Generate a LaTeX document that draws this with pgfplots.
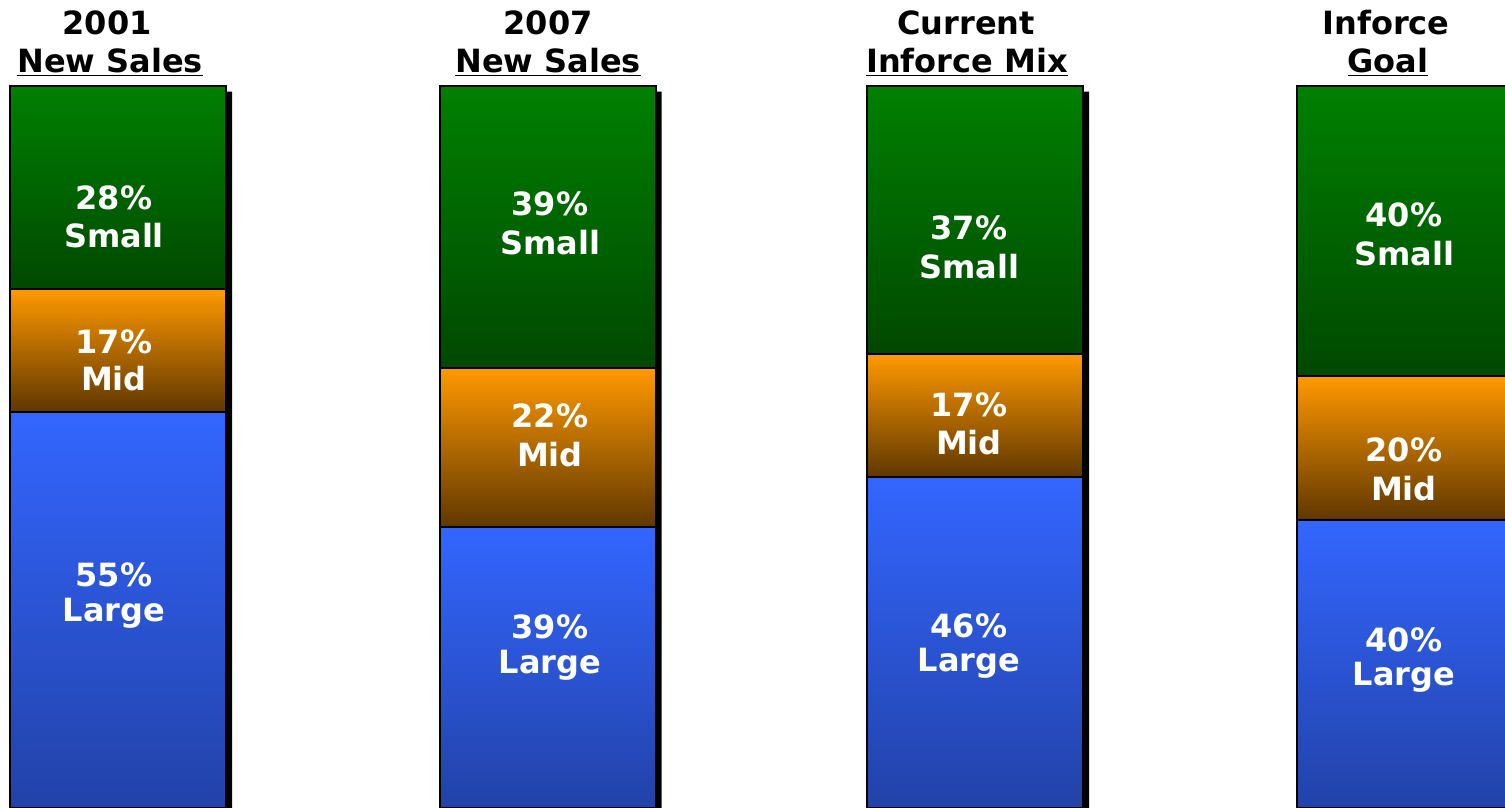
\documentclass[border=0pt]{standalone}
\usepackage{fontspec}
\setmainfont{DejaVu Sans}
\usepackage{pgfplots}
\pgfplotsset{compat=1.18}

\definecolor{smalltop}{RGB}{0,128,0}
\definecolor{smallbot}{RGB}{0,72,0}
\definecolor{midtop}{RGB}{255,153,0}
\definecolor{midbot}{RGB}{95,55,0}
\definecolor{largetop}{RGB}{51,102,255}
\definecolor{largebot}{RGB}{34,66,168}

% one panel = the whole picture, x in pixels of the reference, y in percent
\pgfplotsset{
  panel/.style={
    width=752.5pt, height=404pt, scale only axis,
    xmin=0, xmax=1505, ymin=0.2, ymax=111.96,
    axis line style={draw=none},
    xtick=\empty, ytick=\empty,
    clip bounding box=upper bound,
  },
  seg/.style={draw=black, line width=1pt},
  txt/.style={
    draw=none, mark=none,
    point meta=explicit symbolic,
    nodes near coords align={center},
    nodes near coords style={anchor=center, font=\bfseries\fontsize{16}{19}\selectfont, #1},
  },
}

% one stacked column in its own axis, so that each segment gets its own shading
% #1 = x, #2 = large, #3 = mid, #4 = small
\newcommand\column[4]{%
  \begin{axis}[panel, ybar stacked, bar width=108pt]
    \addplot[seg, top color=largetop, bottom color=largebot] coordinates {(#1,#2)};
    \addplot[seg, top color=midtop, bottom color=midbot] coordinates {(#1,#3)};
    \addplot[seg, top color=smalltop, bottom color=smallbot] coordinates {(#1,#4)};
  \end{axis}}

\begin{document}
\begin{tikzpicture}
% shadows
\begin{axis}[panel, ybar, bar width=108pt, bar shift=3pt]
  \addplot[fill=black, draw=none] coordinates {(118,99.3) (547.5,99.3) (975,99.3) (1405,99.3)};
\end{axis}
% stacked bars
\column{118}{55}{17}{28}
\column{547.5}{39}{22}{39}
\column{975}{46}{17}{37}
\column{1405}{40}{20}{40}
% labels
\begin{axis}[panel]
  \addplot[txt=white, nodes near coords={\pgfplotspointmeta\%}] coordinates {
    (114,84.65) [28] (114,64.7) [17] (114,32.4) [55]
    (550,83.8) [39] (550,54.4) [22] (550,25.2) [39]
    (969,80.4) [37] (969,56.0) [17] (969,25.4) [46]
    (1404,82.2) [40] (1404,49.7) [20] (1404,23.5) [40]
  };
  \addplot[txt=white, nodes near coords={\pgfplotspointmeta}] coordinates {
    (114,79.4) [Small] (114,59.6) [Mid] (114,27.2) [Large]
    (550,78.4) [Small] (550,49.1) [Mid] (550,20.0) [Large]
    (969,75.1) [Small] (969,50.8) [Mid] (969,20.2) [Large]
    (1404,76.9) [Small] (1404,44.4) [Mid] (1404,18.3) [Large]
  };
  \addplot[txt=black, nodes near coords={\pgfplotspointmeta}] coordinates {
    (107,108.85) [2001] (548,108.85) [2007] (966,108.85) [Current] (1386,108.85) [Inforce]
  };
  \addplot[txt=black, nodes near coords={\underline{\pgfplotspointmeta}}] coordinates {
    (110,103.3) [New Sales] (548,103.3) [New Sales] (967,103.3) [Inforce Mix] (1388,103.3) [Goal]
  };
\end{axis}
\end{tikzpicture}
\end{document}
